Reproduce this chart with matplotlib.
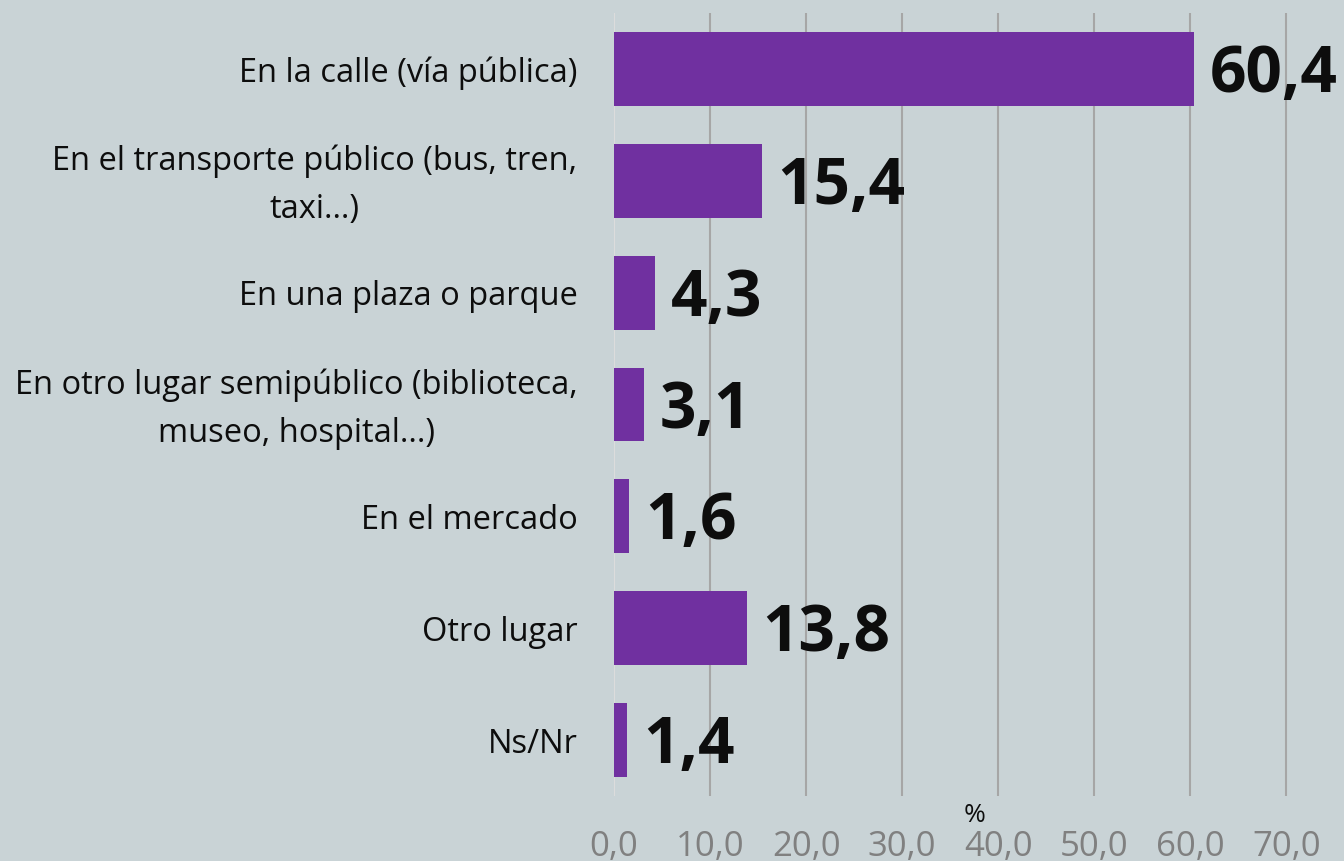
import matplotlib
matplotlib.use("Agg")
import matplotlib.pyplot as plt
import numpy as np

categories = [
    "En la calle (vía pública)",
    "En el transporte público (bus, tren,\ntaxi…)",
    "En una plaza o parque",
    "En otro lugar semipúblico (biblioteca,\nmuseo, hospital...)",
    "En el mercado",
    "Otro lugar",
    "Ns/Nr",
]
values = [60.4, 15.4, 4.3, 3.1, 1.6, 13.8, 1.4]
ticks = [0, 10, 20, 30, 40, 50, 60, 70]
tick_labels = ["0,0", "10,0", "20,0", "30,0", "40,0", "50,0", "60,0", "70,0"]

bg = "#c9d3d6"
purple = "#7030a0"

fig = plt.figure(figsize=(13.44, 8.62), dpi=100, facecolor=bg)
W, H = 1344, 862
ax = fig.add_axes([614 / W, 1 - 797 / H, (1344 - 614) / W, (797 - 14) / H])
ax.set_facecolor(bg)

y = np.arange(len(categories))
ax.barh(y, values, height=0.66, color=purple, zorder=3)
ax.set_ylim(len(categories) - 0.5, -0.5)
ax.set_xlim(0, 76)

for v in ticks[1:]:
    ax.axvline(v, color="#a6a6a6", lw=1.5, zorder=1)
ax.axvline(0, color="#dcdcdc", lw=1.5, zorder=2)

for i, v in enumerate(values):
    ax.text(v + 1.6, i + 0.05, f"{v:.1f}".replace(".", ","), va="center", ha="left",
            fontsize=46, fontweight="bold", family="Open Sans", color="#0d0d0d", zorder=4)

ax.set_yticks(y)
ax.set_yticklabels([])
for i, c in enumerate(categories):
    ax.text(-3.8, i + 0.03, c, ha="right", va="center", multialignment="center",
            fontsize=23.5, family="Open Sans", color="#0d0d0d", linespacing=1.6)

ax.set_xticks(ticks)
ax.set_xticklabels(tick_labels, family="Open Sans", fontsize=25, color="#808080")
ax.tick_params(axis="x", length=0, pad=24)
ax.tick_params(axis="y", length=0)
for s in ax.spines.values():
    s.set_visible(False)

fig.text(975 / W, 1 - 816 / H, "%", ha="center", va="center", fontsize=19,
         family="Open Sans", color="#0d0d0d")

fig.savefig("out.png", dpi=100, facecolor=bg)
